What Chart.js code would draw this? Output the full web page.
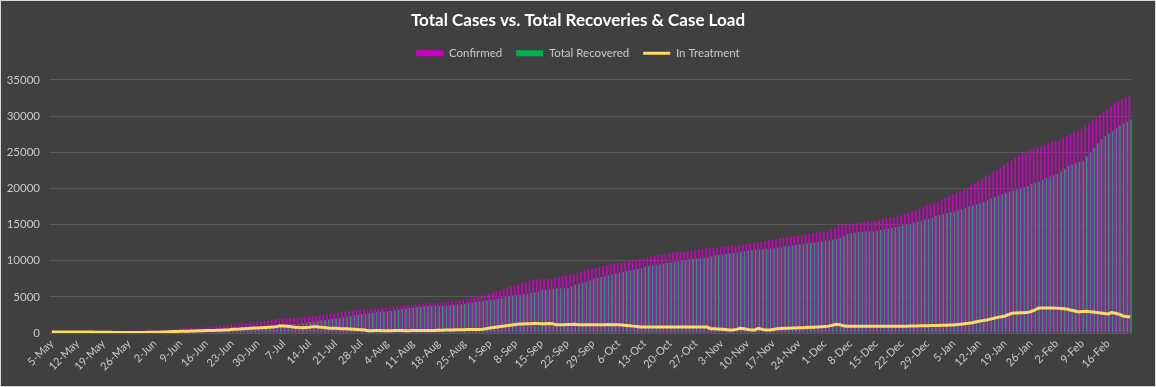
<!DOCTYPE html>
<html>
<head>
<meta charset="utf-8">
<script src="https://cdn.jsdelivr.net/npm/chart.js@4.4.1/dist/chart.umd.min.js"></script>
<style>
  html, body { margin: 0; padding: 0; background: #404040; }
  #wrap { width: 1156px; height: 387px; box-sizing: border-box; border: 1px solid #d9d9d9; background: #404040; }
  canvas { display: block; }
</style>
</head>
<body>
<div id="wrap"><canvas id="chart" width="1154" height="385"></canvas></div>
<script>
// daily series, 5-May to 22-Feb, one row per week
var confirmed = [
  190,195,198,200,204,208,212,
  215,218,220,224,226,230,233,
  238,242,247,252,258,265,272,
  290,300,312,325,338,350,362,
  380,400,425,455,500,555,590,
  620,640,665,690,715,745,775,
  800,840,880,930,980,1030,1080,
  1120,1170,1240,1340,1390,1440,1470,
  1500,1570,1640,1720,1800,1880,1950,
  2000,2020,2050,2070,2090,2100,2180,
  2250,2320,2400,2460,2500,2540,2620,
  2700,2780,2880,2960,3050,3100,3150,
  3180,3220,3260,3300,3340,3390,3430,
  3450,3500,3560,3620,3680,3740,3800,
  3850,3890,3950,4010,4060,4110,4160,
  4200,4230,4260,4300,4380,4450,4540,
  4620,4700,4820,4950,5050,5140,5300,
  5450,5600,5740,5900,6100,6300,6450,
  6550,6670,6850,7050,7200,7360,7400,
  7420,7440,7450,7460,7600,7750,7850,
  7920,8050,8150,8300,8450,8600,8750,
  8900,9000,9130,9250,9350,9450,9550,
  9650,9740,9820,9900,10040,10150,10250,
  10350,10450,10550,10650,10750,10870,10970,
  11050,11100,11150,11200,11260,11320,11400,
  11460,11530,11590,11650,11720,11780,11850,
  11900,11960,12020,12080,12120,12170,12220,
  12300,12380,12450,12530,12610,12700,12800,
  12920,13000,13080,13150,13230,13300,13380,
  13450,13520,13610,13700,13800,13900,14000,
  14100,14170,14350,14600,14860,14950,15050,
  15100,15150,15200,15260,15320,15400,15460,
  15520,15600,15700,15820,15950,16080,16200,
  16350,16450,16600,16800,17000,17200,17400,
  17650,17800,17950,18150,18400,18650,18900,
  19150,19400,19700,19900,20100,20400,20700,
  21000,21300,21600,21900,22250,22550,22880,
  23250,23600,23950,24300,24650,24900,25100,
  25300,25420,25600,25800,26000,26200,26400,
  26550,26700,26900,27180,27450,27800,28000,
  28200,28600,29000,29400,29800,30280,30650,
  31000,31350,31700,32000,32250,32550,32820
];

var recovered = [
  40,45,50,55,58,62,66,
  70,78,85,92,100,110,120,
  130,145,160,175,190,200,210,
  220,228,236,244,252,260,270,
  280,290,300,310,330,350,370,
  390,400,410,420,430,440,450,
  450,460,480,500,520,540,570,
  600,640,680,720,760,800,800,
  800,850,900,950,1000,1050,1100,
  1150,1180,1210,1250,1280,1300,1400,
  1500,1580,1650,1750,1800,1850,1950,
  2000,2080,2160,2240,2360,2450,2520,
  2600,2670,2740,2800,2860,2920,2960,
  3000,3080,3160,3240,3320,3400,3460,
  3500,3570,3620,3660,3700,3730,3760,
  3780,3800,3800,3830,3880,3930,3990,
  4050,4120,4200,4280,4350,4440,4500,
  4550,4620,4720,4820,4950,5080,5180,
  5200,5280,5380,5460,5530,5600,5700,
  5900,5960,6030,6110,6140,6170,6190,
  6210,6450,6670,6820,6980,7130,7300,
  7500,7620,7740,7860,7980,8100,8230,
  8350,8460,8560,8660,8750,8860,8980,
  9150,9250,9350,9430,9510,9600,9680,
  9750,9830,9920,10000,10080,10160,10240,
  10300,10320,10400,10500,10600,10700,10780,
  10850,10920,10990,11070,11150,11220,11290,
  11400,11450,11500,11540,11580,11620,11660,
  11710,11790,11870,11950,12030,12110,12190,
  12250,12300,12360,12430,12500,12580,12700,
  12780,12820,12900,13000,13150,13400,13700,
  13800,13860,13920,13980,14020,14050,14070,
  14150,14250,14350,14450,14550,14650,14750,
  14900,15000,15120,15250,15400,15550,15700,
  15800,15950,16200,16300,16400,16550,16680,
  16800,16950,17100,17300,17540,17650,17750,
  17900,18100,18350,18600,18800,19000,19170,
  19400,19550,19700,19850,20000,20150,20300,
  20600,20790,20950,21150,21400,21650,21800,
  22000,22350,22700,23100,23300,23500,23650,
  23800,24400,25000,25600,26200,26810,27200,
  27600,27950,28300,28650,28950,29250,29490
];

var inTreatment = [
  150,150,148,145,146,146,146,
  145,140,135,132,126,120,113,
  108,97,87,77,68,65,62,
  70,72,76,81,86,90,92,
  100,110,125,145,170,205,220,
  230,240,255,270,290,305,320,
  340,350,360,370,380,400,430,
  510,520,540,600,620,650,680,
  690,720,750,790,830,880,1000,
  960,920,880,800,760,740,770,
  800,880,850,800,750,690,660,
  640,620,600,580,550,510,480,
  450,400,320,320,330,330,320,
  320,320,330,330,330,320,320,
  330,330,340,340,350,350,360,
  370,380,420,420,430,440,450,
  460,470,480,490,500,510,600,
  690,750,820,900,970,1050,1120,
  1180,1230,1260,1290,1290,1300,1300,
  1290,1290,1300,1290,1150,1150,1150,
  1160,1180,1200,1150,1150,1150,1150,
  1150,1140,1150,1150,1160,1150,1150,
  1150,1100,1050,1000,950,900,830,
  830,840,830,830,820,830,830,
  830,830,835,830,830,825,830,
  830,830,830,830,600,580,560,
  520,480,420,420,500,650,600,
  500,420,420,650,500,420,420,
  470,600,620,650,670,690,700,
  720,740,760,780,800,840,880,
  900,950,1050,1200,1150,1000,930,
  930,925,930,930,935,930,930,
  930,930,930,930,930,935,930,
  940,950,960,970,980,990,1000,
  1010,1020,1030,1040,1060,1080,1100,
  1110,1160,1220,1290,1340,1420,1520,
  1620,1710,1800,1920,2040,2160,2260,
  2360,2560,2740,2760,2790,2810,2820,
  2950,3150,3430,3450,3460,3470,3470,
  3440,3400,3350,3290,3150,3050,2920,
  2960,3000,2950,2900,2820,2760,2700,
  2640,2820,2740,2600,2360,2280,2220
];

// category labels: one per day starting 5-May
var months = ["Jan","Feb","Mar","Apr","May","Jun","Jul","Aug","Sep","Oct","Nov","Dec"];
var days = [];
var d = new Date(2020, 4, 5);
for (var i = 0; i < confirmed.length; i++) {
    days.push(d.getDate() + "-" + months[d.getMonth()]);
    d.setDate(d.getDate() + 1);
}

var textColor = "#c9c9c9";
var fontFam = "Lato, 'Open Sans', sans-serif";

// empty layout boxes: gap under the legend, and room on the right of the plot
function spacer(pos, size){
    return {
        position: pos,
        weight: 500,
        fullSize: false,
        options: {},
        update: function(maxW, maxH){
            if (pos === "top") { this.width = maxW; this.height = size; }
            else { this.width = size; this.height = maxH; }
        },
        isHorizontal: function(){ return pos === "top"; },
        draw: function(){}
    };
}
var spacerPlugin = {
    id: "spacers",
    beforeInit: function(ch){
        Chart.layouts.addBox(ch, spacer("top", 11));
        Chart.layouts.addBox(ch, spacer("right", 23));
    }
};

var chart = new Chart("chart", {
    type: "bar",
    plugins: [spacerPlugin],
    data: {
        labels: days,
        datasets: [
            {
                label: "Confirmed",
                data: confirmed,
                backgroundColor: "#cc00c4",
                borderWidth: 0,
                categoryPercentage: 0.9,
                barPercentage: 1.0
            },
            {
                label: "Total Recovered",
                data: recovered,
                backgroundColor: "#00b050",
                borderWidth: 0,
                categoryPercentage: 0.9,
                barPercentage: 1.0
            },
            {
                type: "line",
                label: "In Treatment",
                data: inTreatment,
                borderColor: "#ffd966",
                backgroundColor: "#ffd966",
                borderWidth: 3,
                pointRadius: 0,
                tension: 0,
                order: -1
            }
        ]
    },
    options: {
        responsive: false,
        animation: false,
        layout: { padding: 0 },
        plugins: {
            tooltip: { enabled: false },
            title: {
                display: true,
                text: "Total Cases vs. Total Recoveries & Case Load",
                color: "#ffffff",
                font: { family: fontFam, size: 17, weight: "bold" },
                padding: { top: 9, bottom: 3 }
            },
            legend: {
                display: true,
                labels: {
                    color: textColor,
                    font: { family: fontFam, size: 11.5 },
                    usePointStyle: true,
                    pointStyleWidth: 27,
                    boxHeight: 6,
                    padding: 14,
                    sort: function(a, b){ return a.datasetIndex - b.datasetIndex; },
                    generateLabels: function(ch){
                        var items = Chart.defaults.plugins.legend.labels.generateLabels(ch);
                        items.forEach(function(it){
                            if (it.datasetIndex === 2) {
                                it.pointStyle = "line";
                                it.strokeStyle = "#ffd966";
                                it.lineWidth = 3;
                            } else {
                                it.pointStyle = "rect";
                                it.lineWidth = 0;
                            }
                        });
                        return items;
                    }
                }
            }
        },
        scales: {
            x: {
                grid: { display: false, drawTicks: false },
                border: { display: false },
                ticks: {
                    autoSkip: false,
                    minRotation: 45,
                    maxRotation: 45,
                    padding: 4,
                    color: textColor,
                    font: { family: fontFam, size: 11 },
                    callback: function(val, idx){
                        return idx % 7 === 0 ? days[idx] : "";
                    }
                },
                afterFit: function(axis){ axis.height = 53; }
            },
            y: {
                min: 0,
                max: 35000,
                grid: { color: "#595959", lineWidth: 1, drawTicks: false },
                border: { display: false },
                ticks: {
                    stepSize: 5000,
                    padding: 10,
                    color: textColor,
                    font: { family: fontFam, size: 11.5 },
                    callback: function(v){ return String(v); }
                },
                afterFit: function(axis){ axis.width = 49; }
            }
        }
    }
});
</script>
</body>
</html>
